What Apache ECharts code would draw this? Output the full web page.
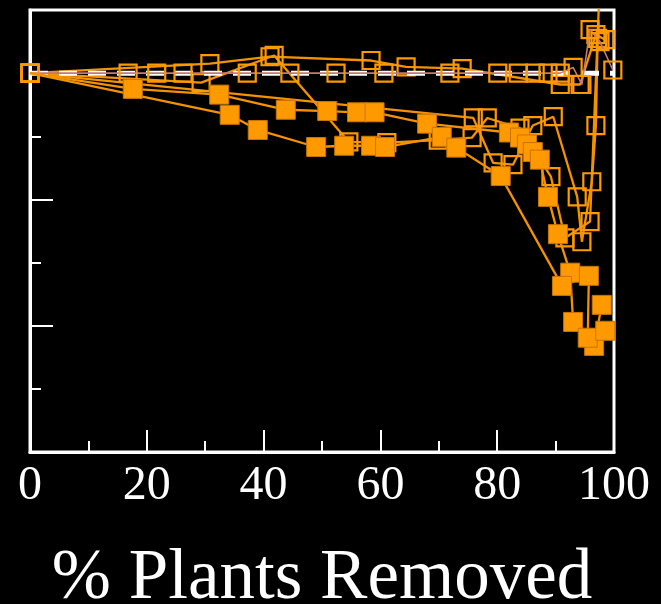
<!DOCTYPE html>
<html><head><meta charset="utf-8">
<script src="https://cdn.jsdelivr.net/npm/echarts@6/dist/echarts.min.js"></script>
<style>html,body{margin:0;padding:0;background:#000;}#c{width:661px;height:604px;}</style>
</head><body><div id="c"></div>
<script>
// x = % plants removed, y = response (axis units 0..7, reference level 6)
const xTicks = [0, 20, 40, 60, 80, 100];
const referenceLevel = 6;
const filled1 = [[0,6],[17.6,5.75],[32.4,5.66],[43.8,5.42],[50.9,5.40],[56.0,5.38],[59.0,5.38],[68.0,5.20],[82.0,5.06],[83.9,4.98],[85.1,4.87],[86.1,4.75],[87.3,4.63],[88.7,4.04],[90.4,3.45],[92.5,2.84],[93.0,2.06],[96.6,1.68],[97.9,2.33]];
const filled2 = [[0,6],[34.2,5.34],[39.0,5.10],[49.0,4.83],[53.8,4.85],[58.4,4.85],[60.8,4.83],[70.5,4.99],[73.0,4.82],[80.6,4.37],[91.1,2.63],[95.7,2.79],[95.5,1.81],[98.5,1.92]];
const open1 = [[0,6],[16.8,6],[21.7,6],[26.2,6],[37.2,6],[44.5,6],[52.4,6],[60.6,6],[71.9,6],[80.1,6],[83.6,6],[86.5,6],[88.7,6],[90.8,6],[93.0,6.09],[94.5,5.82],[95.9,6.69],[97.6,6.50],[99.8,6.05]];
const open2 = [[0,6],[30.8,6.15],[41.1,6.26],[58.4,6.20],[64.4,6.10],[74.0,6.07],[90.8,5.82],[94.2,5.82],[96.9,6.61],[98.5,6.53]];
const open3 = [[0,6],[29.3,5.85],[41.8,6.28],[54.6,4.91],[61.1,4.90],[69.9,4.94],[75.7,4.98],[78.3,5.29],[83.9,5.13],[89.2,4.36],[91.6,3.39],[95.9,3.65],[97.6,7.5]];
const open4 = [[0,6],[75.9,5.29],[79.3,4.58],[82.7,4.55],[86.1,5.17],[89.6,5.31],[93.7,4.04],[94.5,3.33],[96.2,4.28],[96.9,5.17],[97.2,6.55]];
const refLine = [[0,referenceLevel],[100,referenceLevel]];

const ORANGE = '#FF9900';
function filledSeries(d){
  const data = d.map(function(p,i){return i===0?{value:p,symbol:'none'}:p;});
  return {type:'line',data:data,symbol:'rect',symbolSize:19,yAxisIndex:0,
  lineStyle:{color:'#F29200',width:2.3},itemStyle:{color:ORANGE,borderColor:'#C87400',borderWidth:1},z:4,animation:false};}
function openSeries(d,lineColor,lw,z){return {type:'line',data:d,symbol:'rect',symbolSize:17,yAxisIndex:0,
  lineStyle:{color:lineColor||'#F29200',width:lw||2.3},itemStyle:{color:'rgba(0,0,0,0)',borderColor:ORANGE,borderWidth:2.2},z:z||2.5,animation:false};}

const chart = echarts.init(document.getElementById('c'));
chart.setOption({
  backgroundColor:'#000',
  animation:false,
  grid:{left:30,right:47,top:10,bottom:152,outerBoundsMode:'none',containLabel:false,show:true,borderColor:'#fff',borderWidth:3,backgroundColor:'transparent'},
  xAxis:{type:'value',min:0,max:100,interval:20,
    axisLine:{show:true,lineStyle:{color:'#fff',width:3}},
    axisTick:{show:true,inside:true,length:22,lineStyle:{color:'#fff',width:2}},
    minorTick:{show:true,splitNumber:2,length:11,lineStyle:{color:'#fff',width:2}},
    splitLine:{show:false},
    axisLabel:{color:'#fff',fontFamily:'Liberation Serif',fontSize:48,margin:10,
      formatter:function(v){return xTicks.indexOf(v)>=0?String(v):'';}},
    name:'% Plants Removed',nameLocation:'middle',nameGap:92,
    nameTextStyle:{color:'#fff',fontFamily:'Liberation Serif',fontSize:71}},
  yAxis:[
    {type:'value',min:0,max:7,interval:1,
     axisLine:{show:true,lineStyle:{color:'#fff',width:3}},
     axisTick:{show:true,inside:true,length:11,lineStyle:{color:'#fff',width:2}},
     axisLabel:{show:false},splitLine:{show:false}},
    {type:'value',min:0,max:7,interval:2,position:'left',
     axisLine:{show:false},
     axisTick:{show:true,inside:true,length:23,lineStyle:{color:'#fff',width:2}},
     axisLabel:{show:false},splitLine:{show:false}}
  ],
  series:[
    {type:'line',data:refLine,symbol:'none',yAxisIndex:0,lineStyle:{color:'#fff',width:5,type:[18,11]},z:2.8},
    openSeries(open1,'#C47A78',1.6,3),openSeries(open2),openSeries(open3),openSeries(open4),
    filledSeries(filled1),filledSeries(filled2)
  ]
});
</script></body></html>
